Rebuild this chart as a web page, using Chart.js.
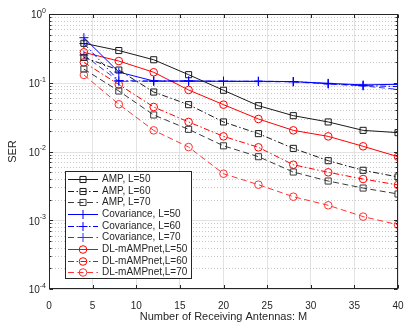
<!DOCTYPE html>
<html>
<head>
<meta charset="utf-8">
<script src="https://cdn.jsdelivr.net/npm/chart.js@4.4.1/dist/chart.umd.min.js"></script>
<style>
  html, body { margin: 0; padding: 0; background: #fff; }
  #wrap { width: 415px; height: 327px; }
</style>
</head>
<body>
<div id="wrap"><canvas id="ser" width="415" height="327"></canvas></div>
<script>
// SER vs number of receiving antennas

const antennas = [4, 8, 12, 16, 20, 24, 28, 32, 36, 40];

const ampL50 = [0.375, 0.294, 0.216, 0.131, 0.0777, 0.0464, 0.0332, 0.0269, 0.0203, 0.0188];
const ampL60 = [0.234, 0.153, 0.0733, 0.048, 0.0269, 0.0182, 0.0111, 0.00735, 0.00533, 0.00426];
const ampL70 = [0.158, 0.0759, 0.034, 0.021, 0.0121, 0.0084, 0.00503, 0.00372, 0.00294, 0.00241];

const covL50 = [0.452, 0.143, 0.106, 0.106, 0.105, 0.105, 0.104, 0.098, 0.093, 0.095];
const covL60 = [0.372, 0.107, 0.106, 0.106, 0.105, 0.105, 0.104, 0.097, 0.091, 0.088];
const covL70 = [0.253, 0.105, 0.105, 0.105, 0.105, 0.104, 0.103, 0.096, 0.090, 0.080];

const dlL50 = [0.277, 0.207, 0.142, 0.0785, 0.048, 0.0297, 0.0203, 0.0166, 0.0119, 0.0084];
const dlL60 = [0.198, 0.0944, 0.0444, 0.0269, 0.0166, 0.0115, 0.00643, 0.00498, 0.00398, 0.00326];
const dlL70 = [0.130, 0.0486, 0.0203, 0.0116, 0.00475, 0.00329, 0.0022, 0.00165, 0.00113, 0.00086];

const yDecades = [-4, -3, -2, -1, 0];

const FONT = '"Liberation Sans", Arial, Helvetica, sans-serif';
const INK = '#262626';
const DASH_DOT = [6, 2.5, 1.5, 2.5];
const DASHED = [6, 3.5];

function series(label, values, color, dash, pointStyle, radius) {
  return {
    label: label,
    data: antennas.map((x, i) => ({ x: x, y: values[i] })),
    borderColor: color,
    borderWidth: 1,
    borderDash: dash,
    pointStyle: pointStyle,
    pointRadius: radius,
    pointBorderWidth: 1,
    pointBorderColor: color,
    pointBackgroundColor: 'rgba(0,0,0,0)',
    fill: false,
    tension: 0
  };
}

const datasets = [
  series('AMP, L=50', ampL50, '#1a1a1a', [], 'rect', 4.3),
  series('AMP, L=60', ampL60, '#1a1a1a', DASH_DOT, 'rect', 4.3),
  series('AMP, L=70', ampL70, '#3a3a3a', DASHED, 'rect', 4.3),
  series('Covariance, L=50', covL50, '#0000ff', [], 'cross', 4.5),
  series('Covariance, L=60', covL60, '#0000ff', DASH_DOT, 'cross', 4.5),
  series('Covariance, L=70', covL70, '#3333ff', DASHED, 'cross', 4.5),
  series('DL-mAMPnet,L=50', dlL50, '#ff0000', [], 'circle', 3.8),
  series('DL-mAMPnet,L=60', dlL60, '#ff0000', DASH_DOT, 'circle', 3.8),
  series('DL-mAMPnet,L=70', dlL70, '#ff3333', DASHED, 'circle', 3.8)
];

// grid, box, y labels and legend in MATLAB style
const matlabFrame = {
  id: 'matlabFrame',
  beforeDatasetsDraw(chart) {
    const { ctx, chartArea: a, scales: { y } } = chart;
    ctx.save();
    ctx.lineWidth = 1;
    yDecades.forEach((d) => {
      const py = Math.round(y.getPixelForValue(Math.pow(10, d))) + 0.5;
      ctx.strokeStyle = '#e3e3e3';
      ctx.setLineDash([]);
      ctx.beginPath();
      ctx.moveTo(a.left, py);
      ctx.lineTo(a.right, py);
      ctx.stroke();
      if (d < 0) {
        for (let m = 2; m <= 9; m++) {
          const my = Math.round(y.getPixelForValue(m * Math.pow(10, d))) + 0.5;
          ctx.strokeStyle = '#c8c8c8';
          ctx.setLineDash([1, 2]);
          ctx.beginPath();
          ctx.moveTo(a.left, my);
          ctx.lineTo(a.right, my);
          ctx.stroke();
        }
      }
    });
    ctx.restore();
  },
  afterDatasetsDraw(chart) {
    const { ctx, chartArea: a, scales: { x, y } } = chart;
    ctx.save();
    ctx.strokeStyle = INK;
    ctx.lineWidth = 1;
    ctx.setLineDash([]);
    const L = Math.round(a.left) + 0.5, R = Math.round(a.right) - 0.5;
    const T = Math.round(a.top) + 0.5, B = Math.round(a.bottom) - 0.5;
    ctx.strokeRect(L, T, R - L, B - T);

    // ticks inside the box
    ctx.beginPath();
    for (let v = 0; v <= 40; v += 5) {
      const px = Math.round(x.getPixelForValue(v)) + 0.5;
      ctx.moveTo(px, B); ctx.lineTo(px, B - 3.5);
      ctx.moveTo(px, T); ctx.lineTo(px, T + 3.5);
    }
    yDecades.forEach((d) => {
      const py = Math.round(y.getPixelForValue(Math.pow(10, d))) + 0.5;
      ctx.moveTo(L, py); ctx.lineTo(L + 3.5, py);
      ctx.moveTo(R, py); ctx.lineTo(R - 3.5, py);
      if (d < 0) {
        for (let m = 2; m <= 9; m++) {
          const my = Math.round(y.getPixelForValue(m * Math.pow(10, d))) + 0.5;
          ctx.moveTo(L, my); ctx.lineTo(L + 2, my);
          ctx.moveTo(R, my); ctx.lineTo(R - 2, my);
        }
      }
    });
    ctx.stroke();

    // y tick labels 10^n
    ctx.fillStyle = INK;
    ctx.textBaseline = 'middle';
    ctx.textAlign = 'right';
    yDecades.forEach((d) => {
      const py = y.getPixelForValue(Math.pow(10, d));
      const sup = d === 0 ? '0' : '-' + (-d);
      ctx.font = '7px ' + FONT;
      const sw = ctx.measureText(sup).width;
      ctx.fillText(sup, 46, py - 3);
      ctx.font = '10px ' + FONT;
      ctx.fillText('10', 46 - sw, py + 1.5);
    });
    ctx.restore();
  },
  afterDraw(chart) {
    const { ctx } = chart;
    const box = { left: 65.5, top: 171.5, width: 126, height: 107 };
    ctx.save();
    ctx.fillStyle = '#fff';
    ctx.fillRect(box.left, box.top, box.width, box.height);
    ctx.strokeStyle = INK;
    ctx.lineWidth = 1;
    ctx.setLineDash([]);
    ctx.strokeRect(box.left, box.top, box.width, box.height);
    ctx.font = '10px ' + FONT;
    ctx.textBaseline = 'middle';
    ctx.textAlign = 'left';
    chart.data.datasets.forEach((ds, i) => {
      const cy = Math.round(179 + i * 11.65) + 0.5;
      ctx.strokeStyle = ds.borderColor;
      ctx.lineWidth = 1;
      ctx.setLineDash(ds.borderDash);
      ctx.beginPath();
      ctx.moveTo(68, cy);
      ctx.lineTo(98, cy);
      ctx.stroke();
      ctx.setLineDash([]);
      ctx.strokeStyle = ds.pointBorderColor;
      ctx.fillStyle = 'rgba(0,0,0,0)';
      Chart.helpers.drawPoint(ctx, {
        pointStyle: ds.pointStyle,
        radius: ds.pointRadius,
        rotation: 0,
        borderWidth: 1
      }, 83, cy);
      ctx.fillStyle = INK;
      ctx.fillText(ds.label, 102, cy);
    });
    ctx.restore();
  }
};

const chart = new Chart(document.getElementById('ser').getContext('2d'), {
  type: 'line',
  data: { datasets: datasets },
  plugins: [matlabFrame],
  options: {
    responsive: false,
    animation: false,
    layout: { padding: { top: 14, right: 17, left: 0, bottom: 0 } },
    plugins: {
      legend: { display: false },
      tooltip: { enabled: false }
    },
    scales: {
      x: {
        type: 'linear',
        min: 0,
        max: 40,
        afterFit: (s) => { s.height = 38; },
        ticks: {
          stepSize: 5,
          padding: 11,
          color: INK,
          font: { family: FONT, size: 10 }
        },
        grid: { color: '#e3e3e3', drawTicks: false },
        border: { display: false },
        title: {
          display: true,
          text: 'Number of Receiving Antennas: M',
          color: INK,
          font: { family: FONT, size: 11 },
          padding: { top: 0, bottom: 3 }
        }
      },
      y: {
        type: 'logarithmic',
        min: 1e-4,
        max: 1,
        afterFit: (s) => { s.width = 49; },
        ticks: { display: false },
        grid: { display: false },
        border: { display: false },
        title: {
          display: true,
          text: 'SER',
          color: INK,
          font: { family: FONT, size: 11 },
          padding: { top: 6, bottom: 0 }
        }
      }
    }
  }
});
</script>
</body>
</html>
